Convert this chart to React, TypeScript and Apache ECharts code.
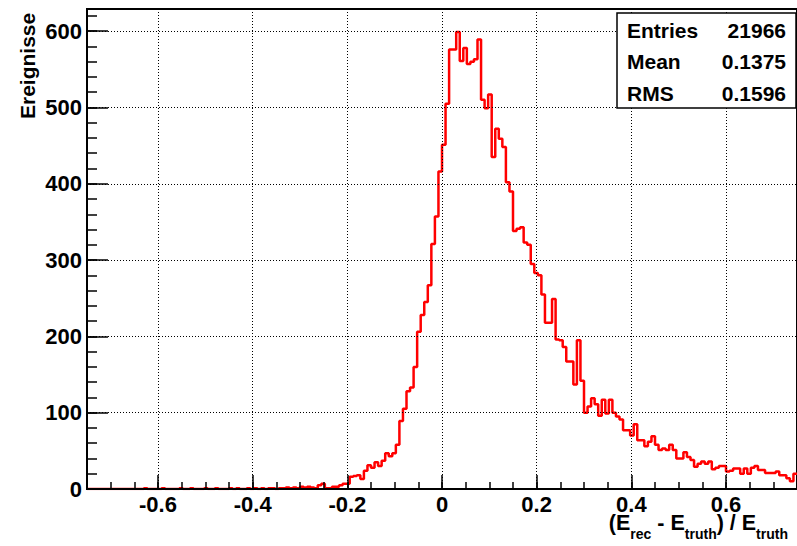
import React, { useEffect, useRef } from 'react';
import * as echarts from 'echarts';

// ---- data ----
const X_MIN = -0.75;
const X_MAX = 0.75;
const BIN_WIDTH = 0.0075;
const Y_MAX = 629;

// 200 bins of width 0.0075 from -0.75 to 0.75
const tailCounts: number[] = [
  0, 0, 0, 0, 0, 0, 0, 0, 0, 0, 0, 0, 0, 0, 0, 0,
  1, 0, 0, 0, 0, 1, 0, 0, 0, 0, 1, 0, 0, 1, 0, 0, 0, 1, 0, 0, 1, 0, 0, 0,
  1, 0, 1, 0, 0, 1, 0, 1, 0, 1, 0, 1, 1, 0, 1, 1, 2, 1, 2, 1,
  3, 2, 3, 2, 1, 5, 7, 1, 1, 3, 3, 5, 7, 7,
];
const peakCounts: number[] = [
  16, 17, 18, 13, 24, 31, 28, 35, 30, 37, 47, 43, 47, 58,
  89, 105, 128, 133, 160, 206, 228, 245, 267, 321, 357, 416,
  451, 505, 576, 576, 599, 561, 578, 557, 560, 563, 589,
  510, 499, 517, 435, 472, 459, 448, 402, 390, 338,
  341, 343, 323, 320, 295, 283, 280, 255, 218, 218,
];
const rightCounts: number[] = [
  249, 196, 195, 186, 167, 167, 137, 195, 142, 100,
  108, 119, 111, 96, 117, 99, 117, 100, 95, 91,
  77, 77, 70, 85, 64, 64, 56, 62, 69, 58,
  51, 53, 51, 58, 51, 40, 40, 48, 42, 38,
  29, 33, 36, 33, 36, 26, 28, 30, 30, 23,
  24, 27, 27, 20, 27, 20, 28, 30, 25, 25,
  21, 21, 21, 23, 18, 18, 14, 10, 20,
];
const counts: number[] = [...tailCounts, ...peakCounts, ...rightCounts];

const yTitle = 'Ereignisse';
// x title pieces: [text, isSubscript]
const xTitleParts: [string, boolean][] = [
  ['(E', false],
  ['rec', true],
  [' - E', false],
  ['truth', true],
  [') / E', false],
  ['truth', true],
];
const statsLabels = ['Entries', 'Mean', 'RMS'];
const statsValues = ['21966', '0.1375', '0.1596'];

const FONT = "'Liberation Sans', Arial, Helvetica, sans-serif";

function measure(text: string, font: string): number {
  const c = document.createElement('canvas');
  const ctx = c.getContext('2d');
  if (!ctx) return text.length * 10;
  ctx.font = font;
  return ctx.measureText(text).width;
}

export default function App() {
  const ref = useRef<HTMLDivElement>(null);

  useEffect(() => {
    if (!ref.current) return;
    const chart = echarts.init(ref.current, undefined, { renderer: 'svg' });

    const points: number[][] = counts.map((c, i) => [X_MIN + i * BIN_WIDTH, c]);
    points.push([X_MAX, counts[counts.length - 1]]);

    const statsGraphics: any[] = [
      {
        type: 'rect',
        shape: { x: 617, y: 13, width: 179, height: 95 },
        style: { fill: '#fff', stroke: '#000', lineWidth: 1.5 },
        z: 100,
      },
    ];
    statsLabels.forEach((lab, i) => {
      const cy = 30 + i * 31.5;
      statsGraphics.push({
        type: 'text',
        x: 627,
        y: cy,
        z: 101,
        style: {
          text: lab,
          font: `bold 21px ${FONT}`,
          fill: '#000',
          align: 'left',
          verticalAlign: 'middle',
        },
      });
      statsGraphics.push({
        type: 'text',
        x: 786,
        y: cy,
        z: 101,
        style: {
          text: statsValues[i],
          font: `bold 21px ${FONT}`,
          fill: '#000',
          align: 'right',
          verticalAlign: 'middle',
        },
      });
    });

    // x-axis title assembled right-to-left from pieces
    const mainFont = `bold 21.5px ${FONT}`;
    const subFont = `bold 14px ${FONT}`;
    const titleGraphics: any[] = [];
    let xr = 788;
    for (let k = xTitleParts.length - 1; k >= 0; k--) {
      const [txt, sub] = xTitleParts[k];
      const font = sub ? subFont : mainFont;
      const w = measure(txt, font);
      titleGraphics.push({
        type: 'text',
        x: xr,
        y: sub ? 534 : 522.5,
        style: {
          text: txt,
          font,
          fill: '#000',
          align: 'right',
          verticalAlign: 'middle',
          lineHeight: sub ? 12 : 16,
          whiteSpace: 'pre',
        },
      });
      xr -= w;
    }

    const labelStyle = {
      fontSize: 22,
      fontWeight: 'bold' as const,
      fontFamily: FONT,
      color: '#000',
    };

    chart.setOption({
      animation: false,
      grid: {
        left: 87,
        top: 9,
        width: 712,
        height: 480,
        show: true,
        borderColor: '#000',
        borderWidth: 2,
        backgroundColor: 'transparent',
      },
      xAxis: [
        {
          type: 'value',
          min: X_MIN,
          max: X_MAX,
          splitNumber: 8,
          minInterval: 0.2,
          maxInterval: 0.2,
          position: 'bottom',
          z: 5,
          axisLine: { show: true, onZero: false, lineStyle: { color: '#000', width: 2 } },
          axisTick: { show: true, inside: true, length: 14, lineStyle: { color: '#000', width: 1.5 } },
          axisLabel: {
            ...labelStyle,
            lineHeight: 18,
            margin: 6,
            showMinLabel: false,
            showMaxLabel: false,
            formatter: (v: number) => {
              const r = Math.round(v * 10) / 10;
              return r === 0 ? '0' : String(r);
            },
          },
          splitLine: { show: true, lineStyle: { color: '#000', width: 1, type: [1, 2] } },
        },
        {
          type: 'value',
          min: X_MIN,
          max: X_MAX,
          interval: 0.05,
          position: 'bottom',
          z: 5,
          axisLine: { show: false, onZero: false },
          axisTick: { show: true, inside: true, length: 7, lineStyle: { color: '#000', width: 1.5 } },
          axisLabel: { show: false },
          splitLine: { show: false },
        },
      ],
      yAxis: [
        {
          type: 'value',
          min: 0,
          max: Y_MAX,
          interval: 100,
          position: 'left',
          z: 5,
          axisLine: { show: true, onZero: false, lineStyle: { color: '#000', width: 2 } },
          axisTick: { show: true, inside: true, length: 21, lineStyle: { color: '#000', width: 1.5 } },
          axisLabel: { ...labelStyle, margin: 5, showMaxLabel: false },
          splitLine: { show: true, lineStyle: { color: '#000', width: 1, type: [1, 2] } },
        },
        {
          type: 'value',
          min: 0,
          max: Y_MAX,
          interval: 20,
          position: 'left',
          offset: 0,
          z: 5,
          axisLine: { show: false, onZero: false },
          axisTick: { show: true, inside: true, length: 10, lineStyle: { color: '#000', width: 1.5 } },
          axisLabel: { show: false },
          splitLine: { show: false },
        },
      ],
      series: [
        {
          type: 'line',
          xAxisIndex: 0,
          yAxisIndex: 0,
          step: 'end',
          showSymbol: false,
          symbol: 'none',
          z: 3,
          lineStyle: { color: '#ff0000', width: 2.5 },
          data: points,
        },
      ],
      graphic: [
        {
          type: 'text',
          x: 27,
          y: 119,
          rotation: Math.PI / 2,
          style: {
            text: yTitle,
            font: `bold 21px ${FONT}`,
            fill: '#000',
            align: 'left',
            verticalAlign: 'middle',
          },
        },
        ...titleGraphics,
        ...statsGraphics,
      ],
    });

    return () => chart.dispose();
  }, []);

  return (
    <div
      ref={ref}
      style={{ position: 'fixed', left: 0, top: 0, width: 797, height: 546, background: '#fff' }}
    />
  );
}
